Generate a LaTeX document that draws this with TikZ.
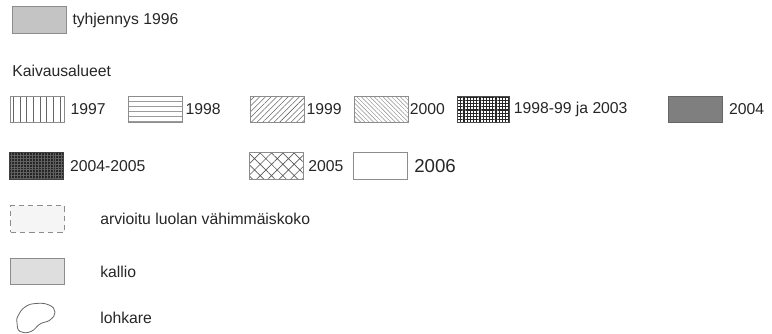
\documentclass[tikz,border=0pt]{standalone}
\usepackage{fontspec}
\setmainfont{Liberation Sans}
\usepackage{xcolor}
\usetikzlibrary{positioning,patterns.meta}
\definecolor{edgegrey}{HTML}{8C8C8C}
\definecolor{emptygrey}{HTML}{C4C4C4}
\definecolor{rockgrey}{HTML}{DEDEDE}
\definecolor{darkgrey}{HTML}{7F7F7F}
\begin{document}
\begin{tikzpicture}[
  x=0.75pt,y=-0.75pt,
  swatch/.style={draw=edgegrey,line width=0.6pt,minimum width=40.5pt,minimum height=20pt,inner sep=0pt},
  lbl/.style={anchor=west,inner sep=0pt,font=\fontsize{11.8}{13}\selectfont,text=black!85},
  hatch/.style={pattern={Lines[angle=#1,distance=3pt,line width=0.4pt]},pattern color=black!60}
]
\useasboundingbox (0,0) rectangle (772,334);
% tyhjennys
\node[swatch,fill=emptygrey] (s96) at (39.5,20) {};
\node[lbl,right=4pt of s96] (t96) {tyhjennys 1996};
\node[lbl] (kaiv) at (12,71) {Kaivausalueet};
% first row of digging areas
\node[swatch,pattern={Lines[angle=90,distance=5pt,line width=0.4pt]},pattern color=black!60] (s97) at (37,109.5) {};
\node[lbl,right=4.5pt of s97] (t97) {1997};
\node[swatch,pattern={Lines[angle=0,distance=4pt,line width=0.4pt]},pattern color=black!60] (s98) at (155.5,109.5) {};
\node[lbl,right=2pt of s98] (t98) {1998};
\node[swatch,hatch=45] (s99) at (277,109.5) {};
\node[lbl,right=1.5pt of s99] (t99) {1999};
\node[swatch,pattern={Lines[angle=-45,distance=2.3pt,line width=0.35pt]},pattern color=black!45] (s00) at (381,109.5) {};
\node[lbl,right=1pt of s00] (t00) {2000};
\node[swatch,minimum width=39pt,draw=black!70,pattern={Hatch[angle=0,distance=2.4pt,line width=0.8pt]},pattern color=black!85] (s9903) at (483,109.5) {};
\node[lbl,right=3pt of s9903] (t9903) {1998-99 ja 2003};
\node[swatch,fill=darkgrey,draw=black!60] (s04) at (695.5,109.5) {};
\node[lbl,right=4.5pt of s04] (t04) {2004};
% second row
\node[swatch,draw=black!75,preaction={fill=black!85},pattern={Hatch[angle=0,distance=2.2pt,line width=0.4pt]},pattern color=black!62] (s0405) at (36.5,166) {};
\node[lbl,right=4.5pt of s0405] (t0405) {2004-2005};
\node[swatch,pattern={Hatch[angle=45,distance=6pt,line width=0.5pt]},pattern color=black!65] (s05) at (276,166) {};
\node[lbl,right=3.5pt of s05] (t05) {2005};
\node[swatch,fill=white] (s06) at (380,166) {};
\node[lbl,right=5pt of s06,font=\fontsize{14}{16}\selectfont] (t06) {2006};
% other symbols
\node[swatch,draw=edgegrey,dashed,dash pattern=on 4pt off 3pt,fill=black!4] (sluola) at (37.5,219) {};
\node[lbl] (tluola) at (100,219) {arvioitu luolan vähimmäiskoko};
\node[swatch,fill=rockgrey] (skallio) at (37.5,271.5) {};
\node[lbl] (tkallio) at (100,271.5) {kallio};
\draw[draw=black!60,line width=0.6pt] plot[smooth cycle,tension=0.8] coordinates {(18,316) (25,307) (36,303.5) (49,305) (55,312) (50,320) (40,324) (31,331.5) (20,331.5) (17,323)};
\node[lbl] (tlohk) at (100,318) {lohkare};
\end{tikzpicture}
\end{document}
